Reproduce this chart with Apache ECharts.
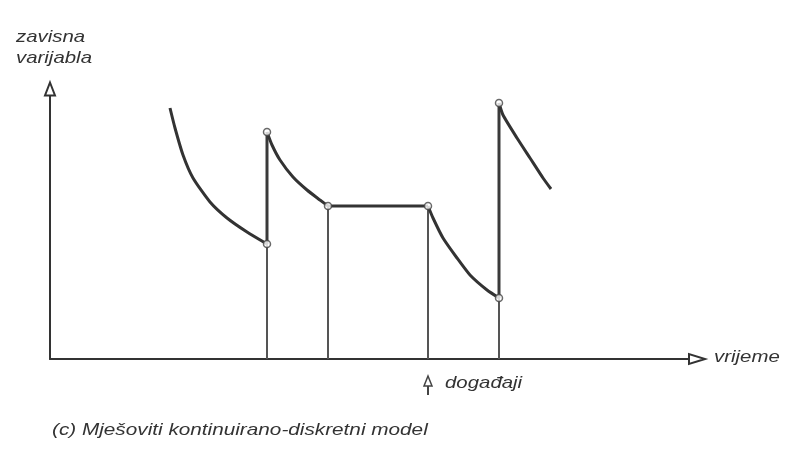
<!DOCTYPE html>
<html>
<head>
<meta charset="utf-8">
<script src="https://cdn.jsdelivr.net/npm/echarts@6/dist/echarts.min.js"></script>
<style>
  html, body { margin: 0; padding: 0; background: #fff; }
  #chart { width: 786px; height: 452px; }
</style>
</head>
<body>
<div id="chart"></div>
<script>
// continuous pieces of the state (time, value)
const curve1 = [[12.0, 25.1], [12.5, 23.1], [13.3, 20.4], [14.3, 18.1], [16.0, 15.7], [17.7, 14.1], [19.7, 12.7], [21.7, 11.5]];
const curve2 = [[21.7, 22.7], [22.2, 21.4], [23.0, 19.9], [24.3, 18.2], [25.7, 16.9], [27.0, 15.9], [27.8, 15.3]];
const flat = [[27.8, 15.3], [37.8, 15.3]];
const curve3 = [[37.8, 15.3], [38.3, 14.1], [39.3, 12.1], [40.7, 10.1], [42.0, 8.4], [43.7, 6.9], [44.9, 6.1]];
const curve4 = [[44.9, 25.6], [45.3, 24.4], [46.7, 22.1], [48.0, 20.1], [49.3, 18.1], [50.1, 17.0]];

// events
const eventTimes = [21.7, 27.8, 37.8, 44.9];
const eventLow = [11.5, 15.3, 15.3, 6.1];
const eventHigh = [22.7, 15.3, 15.3, 25.6];

const xMax = 64.7;
const yMax = 27;

const labelFont = 'italic 17px "Liberation Sans", Arial, sans-serif';
const textColor = '#333';
const stretch = 1.2;

function joinPieces(pieces) {
  let out = [];
  pieces.forEach((p, i) => {
    if (i > 0) out.push(null);
    out = out.concat(p);
  });
  return out;
}

const dropLines = [];
const jumpLines = [];
const knots = [];
eventTimes.forEach((t, i) => {
  dropLines.push([t, 0], [t, eventLow[i]], null);
  if (eventHigh[i] > eventLow[i]) {
    jumpLines.push([t, eventLow[i]], [t, eventHigh[i]], null);
    knots.push([t, eventLow[i]]);
  }
  knots.push([t, eventHigh[i]]);
});

const myChart = echarts.init(document.getElementById('chart'));

let option = {
  backgroundColor: '#fff',
  animation: false,
  grid: { left: 50, top: 89, right: 89, bottom: 93 },
  xAxis: {
    type: 'value',
    min: 0,
    max: xMax,
    axisLine: {
      show: true,
      symbol: ['none', 'emptyTriangle'],
      symbolSize: [10, 16],
      lineStyle: { color: '#333', width: 2 }
    },
    axisTick: { show: false },
    axisLabel: { show: false },
    splitLine: { show: false }
  },
  yAxis: {
    type: 'value',
    min: 0,
    max: yMax,
    axisLine: {
      show: true,
      symbol: ['none', 'emptyTriangle'],
      symbolSize: [10, 13],
      lineStyle: { color: '#333', width: 2 }
    },
    axisTick: { show: false },
    axisLabel: { show: false },
    splitLine: { show: false }
  },
  series: [
    {
      name: 'drop',
      type: 'line',
      data: dropLines,
      symbol: 'none',
      lineStyle: { color: '#555', width: 2 },
      z: 2
    },
    {
      name: 'jump',
      type: 'line',
      data: jumpLines,
      symbol: 'none',
      lineStyle: { color: '#3a3a3a', width: 3 },
      z: 3
    },
    {
      name: 'state',
      type: 'line',
      data: joinPieces([curve1, curve2, flat, curve3, curve4]),
      symbol: 'none',
      smooth: 0.2,
      lineStyle: { color: '#333', width: 3 },
      z: 4
    },
    {
      name: 'events',
      type: 'scatter',
      data: knots,
      symbol: 'circle',
      symbolSize: 7,
      itemStyle: { color: '#fff', borderColor: '#444', borderWidth: 1.5 },
      z: 5
    }
  ],
  graphic: [
    { type: 'text', x: 16, y: 37, scaleX: stretch, style: { text: 'zavisna', font: labelFont, fill: textColor, verticalAlign: 'middle' } },
    { type: 'text', x: 16, y: 58, scaleX: stretch, style: { text: 'varijabla', font: labelFont, fill: textColor, verticalAlign: 'middle' } },
    { type: 'text', x: 714, y: 357, scaleX: stretch, style: { text: 'vrijeme', font: labelFont, fill: textColor, verticalAlign: 'middle' } },
    { type: 'text', x: 445, y: 383, scaleX: stretch, style: { text: 'događaji', font: labelFont, fill: textColor, verticalAlign: 'middle' } },
    { type: 'text', x: 52, y: 430, scaleX: 1.22, style: { text: '(c) Mješoviti kontinuirano-diskretni model', font: labelFont, fill: textColor, verticalAlign: 'middle' } },
    { type: 'line', shape: { x1: 428, y1: 386, x2: 428, y2: 395 }, style: { stroke: '#444', lineWidth: 2 } },
    { type: 'polygon', shape: { points: [[428, 376], [432, 386], [424, 386]] }, style: { stroke: '#444', fill: '#fff', lineWidth: 1.5 } }
  ]
};

myChart.setOption(option);
</script>
</body>
</html>
